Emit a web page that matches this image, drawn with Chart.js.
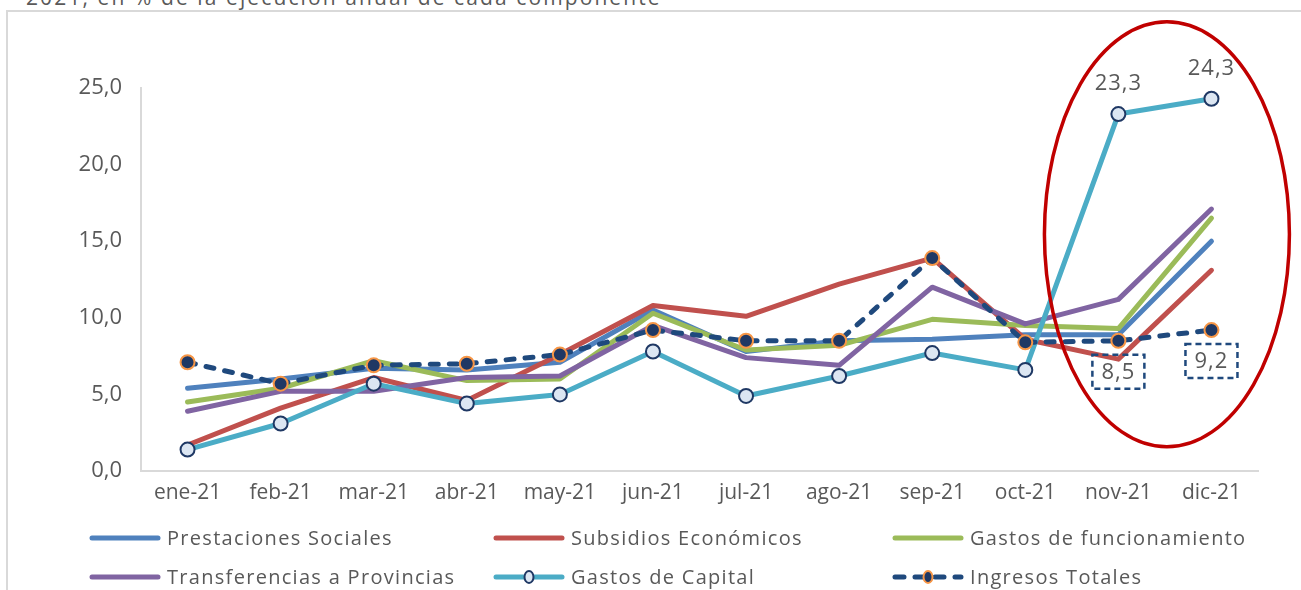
<!DOCTYPE html>
<html lang="es">
<head>
<meta charset="utf-8">
<title>Ejecución mensual 2021</title>
<script src="https://cdn.jsdelivr.net/npm/chart.js@4.4.1/dist/chart.umd.min.js"></script>
<style>
  html, body { margin: 0; padding: 0; background: #fff; }
  body { width: 1301px; height: 590px; position: relative; overflow: hidden; font-family: "Open Sans", sans-serif; }
  .subtitle { position: absolute; left: 26px; top: -17px; font-size: 21px; letter-spacing: 2.1px; color: #595959; white-space: nowrap; }
  .frame { position: absolute; left: 6px; top: 10px; width: 1400px; height: 700px; border-left: 2px solid #d9d9d9; border-top: 2px solid #d9d9d9; background: transparent; }
  #wrap { position: absolute; left: 0; top: 0; width: 1301px; height: 590px; }
</style>
</head>
<body>
<div class="subtitle">2021, en % de la ejecución anual de cada componente</div>
<div class="frame"></div>
<div id="wrap"><canvas id="chart"></canvas></div>
<script>
const months = ["ene-21", "feb-21", "mar-21", "abr-21", "may-21", "jun-21", "jul-21", "ago-21", "sep-21", "oct-21", "nov-21", "dic-21"];
const prestaciones = [5.4, 6.0, 6.7, 6.6, 7.1, 10.5, 7.8, 8.5, 8.6, 8.9, 8.9, 15.0];
const subsidios = [1.7, 4.1, 6.1, 4.6, 7.6, 10.8, 10.1, 12.2, 13.9, 8.6, 7.3, 13.1];
const funcionamiento = [4.5, 5.4, 7.2, 5.9, 6.0, 10.3, 7.9, 8.2, 9.9, 9.5, 9.3, 16.5];
const transferencias = [3.9, 5.2, 5.2, 6.1, 6.2, 9.5, 7.4, 6.9, 12.0, 9.6, 11.2, 17.1];
const capital = [1.4, 3.1, 5.7, 4.4, 5.0, 7.8, 4.9, 6.2, 7.7, 6.6, 23.3, 24.3];
const ingresos = [7.1, 5.7, 6.9, 7.0, 7.6, 9.2, 8.5, 8.5, 13.9, 8.4, 8.5, 9.2];
const highlightMonths = ["nov-21", "dic-21"];
const yTicks = [0, 5, 10, 15, 20, 25];

const FONT = "'Open Sans', sans-serif";
const GREY = "#595959";
const fmt = v => v.toFixed(1).replace(".", ",");

const plainLine = (label, data, color, order) => ({
  label, data, order,
  borderColor: color,
  backgroundColor: color,
  borderWidth: 5,
  borderJoinStyle: "round",
  borderCapStyle: "round",
  pointRadius: 0,
  tension: 0
});

// etiquetas, recuadros y elipse de la zona destacada
const annotations = {
  id: "annotations",
  afterDatasetsDraw(chart) {
    const { ctx, scales: { x, y } } = chart;
    ctx.save();
    ctx.font = "22px " + FONT;
    ctx.letterSpacing = "1px";
    ctx.fillStyle = GREY;
    ctx.textAlign = "center";
    ctx.textBaseline = "middle";
    highlightMonths.forEach(m => {
      const i = months.indexOf(m);
      const px = x.getPixelForValue(i);
      ctx.fillText(fmt(capital[i]), px, y.getPixelForValue(capital[i]) - 30);

      const py = y.getPixelForValue(ingresos[i]) + 31;
      ctx.setLineDash([6, 4]);
      ctx.strokeStyle = "#1f497d";
      ctx.lineWidth = 2.5;
      ctx.strokeRect(px - 26, py - 17, 52, 34);
      ctx.setLineDash([]);
      ctx.fillText(fmt(ingresos[i]), px, py + 1);
    });

    const i0 = months.indexOf(highlightMonths[0]);
    const i1 = months.indexOf(highlightMonths[1]);
    const step = x.getPixelForValue(1) - x.getPixelForValue(0);
    const cx = (x.getPixelForValue(i0) + x.getPixelForValue(i1)) / 2 + 2;
    const cy = y.getPixelForValue(15.45);
    const ry = y.getPixelForValue(0) - y.getPixelForValue(13.87);
    ctx.beginPath();
    ctx.ellipse(cx, cy, step * 1.316, ry, 0, 0, Math.PI * 2);
    ctx.strokeStyle = "#c00000";
    ctx.lineWidth = 3.5;
    ctx.stroke();
    ctx.restore();
  }
};

// leyenda en tres columnas
const gridLegend = {
  id: "gridLegend",
  afterDraw(chart) {
    const { ctx } = chart;
    const cols = [89, 493, 892];
    const rows = [538, 577];
    ctx.save();
    ctx.font = "20px " + FONT;
    ctx.letterSpacing = "1.3px";
    ctx.textBaseline = "middle";
    chart.data.datasets.forEach((ds, k) => {
      const lx = cols[k % 3];
      const ly = rows[Math.floor(k / 3)];
      ctx.strokeStyle = ds.borderColor;
      ctx.lineWidth = 5;
      ctx.lineCap = "round";
      ctx.setLineDash(ds.borderDash ? [9, 11] : []);
      ctx.beginPath();
      ctx.moveTo(lx + 3, ly);
      ctx.lineTo(lx + 69, ly);
      ctx.stroke();
      ctx.setLineDash([]);
      if (ds.pointRadius > 0) {
        ctx.beginPath();
        ctx.ellipse(lx + 36, ly, 4.5, 6, 0, 0, Math.PI * 2);
        ctx.fillStyle = ds.pointBackgroundColor;
        ctx.fill();
        ctx.lineWidth = 2;
        ctx.strokeStyle = ds.pointBorderColor;
        ctx.stroke();
      }
      ctx.fillStyle = GREY;
      ctx.textAlign = "left";
      ctx.fillText(ds.label, lx + 78, ly + 1);
    });
    ctx.restore();
  }
};

new Chart(document.getElementById("chart"), {
  type: "line",
  data: {
    labels: months,
    datasets: [
      plainLine("Prestaciones Sociales", prestaciones, "#4f81bd", 6),
      plainLine("Subsidios Económicos", subsidios, "#c0504d", 5),
      plainLine("Gastos de funcionamiento", funcionamiento, "#9bbb59", 4),
      plainLine("Transferencias a Provincias", transferencias, "#8064a2", 3),
      {
        ...plainLine("Gastos de Capital", capital, "#4bacc6", 2),
        pointRadius: 7,
        pointBorderWidth: 2,
        pointBackgroundColor: "#dce6f2",
        pointBorderColor: "#1f3864"
      },
      {
        ...plainLine("Ingresos Totales", ingresos, "#1f497d", 1),
        borderDash: [8, 11],
        pointRadius: 7,
        pointBorderWidth: 2,
        pointBackgroundColor: "#1f3864",
        pointBorderColor: "#f79646"
      }
    ]
  },
  options: {
    responsive: true,
    maintainAspectRatio: false,
    animation: false,
    layout: { padding: { top: 88, right: 43, left: 0, bottom: 0 } },
    plugins: { legend: { display: false }, tooltip: { enabled: false } },
    scales: {
      x: {
        offset: true,
        grid: { display: false, drawTicks: false },
        border: { color: "#d9d9d9", width: 2 },
        ticks: { color: GREY, font: { size: 21, family: FONT }, padding: 9, maxRotation: 0, autoSkip: false },
        afterFit: s => { s.height = 119; }
      },
      y: {
        min: yTicks[0],
        max: yTicks[yTicks.length - 1],
        grid: { display: false, drawTicks: false },
        border: { color: "#d9d9d9", width: 2 },
        ticks: { color: GREY, font: { size: 22, family: FONT }, padding: 19, stepSize: 5, callback: v => fmt(v) },
        afterBuildTicks: s => { s.ticks = yTicks.map(value => ({ value })); },
        afterFit: s => { s.width = 141; }
      }
    }
  },
  plugins: [annotations, gridLegend]
});
</script>
</body>
</html>
